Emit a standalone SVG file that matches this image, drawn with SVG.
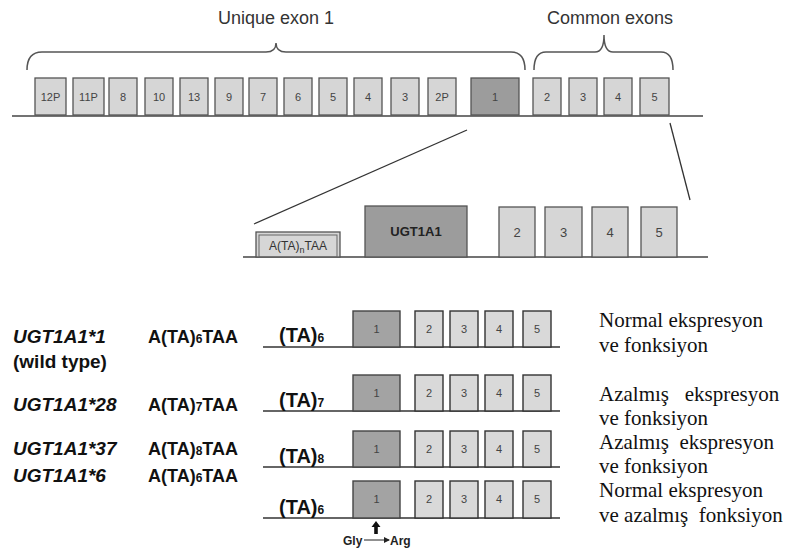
<svg xmlns="http://www.w3.org/2000/svg" width="785" height="549" viewBox="0 0 785 549">
<defs>
<style>
.bg{fill:#fff}
.ex{fill:#d6d6d6;stroke:#555;stroke-width:1.3}
.ex1{fill:#9c9c9c;stroke:#555;stroke-width:1.3}
.exb{fill:#d9d9d9;stroke:#333;stroke-width:1.4}
.ex1b{fill:#a3a3a3;stroke:#444;stroke-width:1.4}
.base{stroke:#444;stroke-width:1.5;fill:none}
.brace{stroke:#555;stroke-width:1.5;fill:none}
.conn{stroke:#333;stroke-width:1.3;fill:none}
.sm{font-family:"Liberation Sans",Arial,sans-serif;font-size:11px;fill:#444;text-anchor:middle}
.bn{font-family:"Liberation Sans",Arial,sans-serif;font-size:12px;fill:#444;text-anchor:middle}
.md{font-family:"Liberation Sans",Arial,sans-serif;font-size:13px;fill:#444;text-anchor:middle}
.hd{font-family:"Liberation Sans",Arial,sans-serif;font-size:18px;fill:#333;text-anchor:middle}
.gene{font-family:"Liberation Sans",Arial,sans-serif;font-size:19px;font-weight:bold;font-style:italic;fill:#111}
.allele{font-family:"Liberation Sans",Arial,sans-serif;font-size:18px;font-weight:bold;fill:#111}
.ta{font-family:"Liberation Sans",Arial,sans-serif;font-size:20px;font-weight:bold;fill:#111}
.sub{font-size:12px}
.ser{font-family:"Liberation Serif","Times New Roman",serif;font-size:21px;fill:#111}
.ga{font-family:"Liberation Sans",Arial,sans-serif;font-size:12px;font-weight:bold;fill:#222}
</style>
<marker id="ah" markerWidth="6" markerHeight="6" refX="5" refY="3" orient="auto" markerUnits="userSpaceOnUse">
<path d="M0,0 L6,3 L0,6 Z" fill="#222"/>
</marker>
</defs>
<rect class="bg" x="0" y="0" width="785" height="549"/>

<!-- Top section -->
<g id="top-labels">
<text class="hd" x="276" y="24">Unique exon 1</text>
<text class="hd" x="610" y="24">Common exons</text>
<path class="brace" d="M27,70 Q27,52 42,52 L266,52 Q276,52 276,43 Q276,52 286,52 L511,52 Q525,52 525,70"/>
<path class="brace" d="M534,70 Q534,52 546,52 L595,52 Q604,52 604,35 Q604,52 613,52 L661,52 Q673,52 673,70"/>
</g>
<g id="top-gene">
<line class="base" x1="12" y1="116" x2="703" y2="116"/>
<g id="t-12P"><rect class="ex" x="35" y="78" width="31" height="37"/><text class="sm" x="50.5" y="101">12P</text></g>
<g id="t-11P"><rect class="ex" x="73" y="78" width="31" height="37"/><text class="sm" x="88.5" y="101">11P</text></g>
<g id="t-8"><rect class="ex" x="109" y="78" width="28" height="37"/><text class="sm" x="123" y="101">8</text></g>
<g id="t-10"><rect class="ex" x="145" y="78" width="28" height="37"/><text class="sm" x="159" y="101">10</text></g>
<g id="t-13"><rect class="ex" x="180" y="78" width="28" height="37"/><text class="sm" x="194" y="101">13</text></g>
<g id="t-9"><rect class="ex" x="215" y="78" width="28" height="37"/><text class="sm" x="229" y="101">9</text></g>
<g id="t-7"><rect class="ex" x="249" y="78" width="28" height="37"/><text class="sm" x="263" y="101">7</text></g>
<g id="t-6"><rect class="ex" x="284" y="78" width="28" height="37"/><text class="sm" x="298" y="101">6</text></g>
<g id="t-5a"><rect class="ex" x="319" y="78" width="28" height="37"/><text class="sm" x="333" y="101">5</text></g>
<g id="t-4a"><rect class="ex" x="354" y="78" width="28" height="37"/><text class="sm" x="368" y="101">4</text></g>
<g id="t-3a"><rect class="ex" x="391" y="78" width="28" height="37"/><text class="sm" x="405" y="101">3</text></g>
<g id="t-2P"><rect class="ex" x="428" y="78" width="28" height="37"/><text class="sm" x="442" y="101">2P</text></g>
<g id="t-1"><rect class="ex1" x="471" y="78" width="48" height="37"/><text class="sm" x="495" y="101">1</text></g>
<g id="t-2"><rect class="ex" x="533" y="78" width="28" height="37"/><text class="sm" x="547" y="101">2</text></g>
<g id="t-3"><rect class="ex" x="569" y="78" width="28" height="37"/><text class="sm" x="583" y="101">3</text></g>
<g id="t-4"><rect class="ex" x="604" y="78" width="28" height="37"/><text class="sm" x="618" y="101">4</text></g>
<g id="t-5"><rect class="ex" x="640" y="78" width="29" height="37"/><text class="sm" x="654.5" y="101">5</text></g>
</g>

<g id="connectors">
<line class="conn" x1="254" y1="224" x2="467" y2="130"/>
<line class="conn" x1="670" y1="123" x2="690" y2="200"/>
</g>

<!-- Middle section -->
<g id="mid-gene">
<line class="base" x1="243" y1="257" x2="708" y2="257"/>
<g id="m-promoter">
<rect class="ex" x="256" y="232" width="84" height="25"/>
<rect x="259" y="235" width="78" height="22" fill="none" stroke="#666" stroke-width="1"/>
<text class="bn" x="298" y="250" style="fill:#333">A(TA)<tspan style="font-size:9px" dy="3">n</tspan><tspan dy="-3">TAA</tspan></text>
</g>
<g id="m-UGT1A1"><rect class="ex1" x="365" y="206" width="102" height="51"/><text class="md" x="416" y="236" style="font-weight:bold;fill:#222">UGT1A1</text></g>
<g id="m-2"><rect class="ex" x="499" y="207" width="36" height="50"/><text class="md" x="517" y="237">2</text></g>
<g id="m-3"><rect class="ex" x="545" y="207" width="37" height="50"/><text class="md" x="563.5" y="237">3</text></g>
<g id="m-4"><rect class="ex" x="592" y="207" width="36" height="50"/><text class="md" x="610" y="237">4</text></g>
<g id="m-5"><rect class="ex" x="641" y="207" width="36" height="50"/><text class="md" x="659" y="237">5</text></g>
</g>

<!-- Row 1 -->
<g id="row1">
<text class="gene" x="13" y="343">UGT1A1*1</text>
<text class="gene" x="13" y="368" style="font-style:normal">(wild type)</text>
<text class="allele" x="148" y="343">A(TA)<tspan class="sub">6</tspan>TAA</text>
<line class="base" x1="263" y1="347" x2="560" y2="347" style="stroke:#333"/>
<text class="ta" x="279" y="342">(TA)<tspan class="sub">6</tspan></text>
<rect class="ex1b" x="353" y="311" width="47" height="36"/><text class="sm" x="376.5" y="333">1</text>
<rect class="exb" x="415" y="311" width="28" height="36"/><text class="sm" x="429" y="333">2</text>
<rect class="exb" x="450" y="311" width="28" height="36"/><text class="sm" x="464" y="333">3</text>
<rect class="exb" x="485" y="311" width="28" height="36"/><text class="sm" x="499" y="333">4</text>
<rect class="exb" x="523" y="311" width="28" height="36"/><text class="sm" x="537" y="333">5</text>
<text class="ser" x="599" y="327">Normal ekspresyon</text>
<text class="ser" x="599" y="352">ve fonksiyon</text>
</g>

<!-- Row 2 -->
<g id="row2">
<text class="gene" x="13" y="411">UGT1A1*28</text>
<text class="allele" x="148" y="411">A(TA)<tspan class="sub">7</tspan>TAA</text>
<line class="base" x1="263" y1="411" x2="560" y2="411" style="stroke:#333"/>
<text class="ta" x="279" y="407">(TA)<tspan class="sub">7</tspan></text>
<rect class="ex1b" x="353" y="375" width="47" height="36"/><text class="sm" x="376.5" y="397">1</text>
<rect class="exb" x="415" y="375" width="28" height="36"/><text class="sm" x="429" y="397">2</text>
<rect class="exb" x="450" y="375" width="28" height="36"/><text class="sm" x="464" y="397">3</text>
<rect class="exb" x="485" y="375" width="28" height="36"/><text class="sm" x="499" y="397">4</text>
<rect class="exb" x="523" y="375" width="28" height="36"/><text class="sm" x="537" y="397">5</text>
<text class="ser" x="599" y="401" xml:space="preserve">Azalmış   ekspresyon</text>
<text class="ser" x="599" y="425">ve fonksiyon</text>
</g>

<!-- Row 3 -->
<g id="row3">
<text class="gene" x="13" y="455">UGT1A1*37</text>
<text class="allele" x="148" y="455">A(TA)<tspan class="sub">8</tspan>TAA</text>
<line class="base" x1="263" y1="467" x2="560" y2="467" style="stroke:#333"/>
<text class="ta" x="279" y="463">(TA)<tspan class="sub">8</tspan></text>
<rect class="ex1b" x="353" y="431" width="47" height="36"/><text class="sm" x="376.5" y="453">1</text>
<rect class="exb" x="415" y="431" width="28" height="36"/><text class="sm" x="429" y="453">2</text>
<rect class="exb" x="450" y="431" width="28" height="36"/><text class="sm" x="464" y="453">3</text>
<rect class="exb" x="485" y="431" width="28" height="36"/><text class="sm" x="499" y="453">4</text>
<rect class="exb" x="523" y="431" width="28" height="36"/><text class="sm" x="537" y="453">5</text>
<text class="ser" x="599" y="449" xml:space="preserve">Azalmış  ekspresyon</text>
<text class="ser" x="599" y="473">ve fonksiyon</text>
</g>

<!-- Row 4 -->
<g id="row4">
<text class="gene" x="13" y="482">UGT1A1*6</text>
<text class="allele" x="148" y="482">A(TA)<tspan class="sub">6</tspan>TAA</text>
<line class="base" x1="263" y1="518" x2="560" y2="518" style="stroke:#333"/>
<text class="ta" x="279" y="514">(TA)<tspan class="sub">6</tspan></text>
<rect class="ex1b" x="353" y="481" width="47" height="37"/><text class="sm" x="376.5" y="503">1</text>
<rect class="exb" x="415" y="481" width="28" height="37"/><text class="sm" x="429" y="503">2</text>
<rect class="exb" x="450" y="481" width="28" height="37"/><text class="sm" x="464" y="503">3</text>
<rect class="exb" x="485" y="481" width="28" height="37"/><text class="sm" x="499" y="503">4</text>
<rect class="exb" x="523" y="481" width="28" height="37"/><text class="sm" x="537" y="503">5</text>
<text class="ser" x="599" y="497">Normal ekspresyon</text>
<text class="ser" x="599" y="522" xml:space="preserve">ve azalmış  fonksiyon</text>
<g id="mutation">
<path d="M376,521 L380.5,527 L377.8,527 L377.8,534 L374.2,534 L374.2,527 L371.5,527 Z" fill="#111"/>
<text class="ga" x="343" y="545">Gly</text>
<line x1="364" y1="540" x2="389" y2="540" stroke="#222" stroke-width="1" marker-end="url(#ah)"/>
<text class="ga" x="390" y="545">Arg</text>
</g>
</g>
</svg>
